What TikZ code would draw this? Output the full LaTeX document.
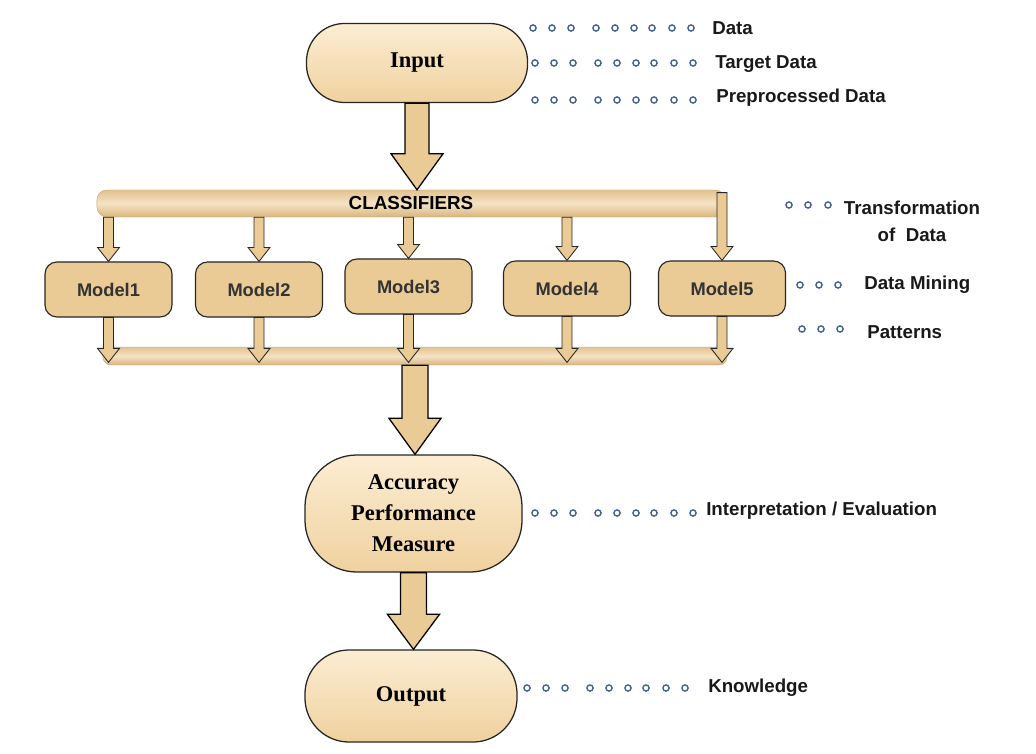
\documentclass[tikz,border=0pt]{standalone}
\usepackage{fontspec}
\setmainfont{Liberation Serif}
\setsansfont{Liberation Sans}
\usetikzlibrary{calc}

\definecolor{boxtan}{HTML}{EACA95}
\definecolor{stadtop}{HTML}{FCEDD3}
\definecolor{stadbot}{HTML}{EFD19E}
\definecolor{bartop}{HTML}{E2C290}
\definecolor{barmid}{HTML}{F5E3C4}
\definecolor{barbot}{HTML}{D9B57F}
\definecolor{dotblue}{HTML}{45659A}

\tikzset{
  stadium/.style={draw=black!85, line width=0.9pt, top color=stadtop, bottom color=stadbot,
    font=\rmfamily\bfseries\fontsize{16}{22}\selectfont, align=center},
  modelbox/.style={draw=black!85, line width=0.8pt, fill=boxtan, rounded corners=0.3cm,
    minimum width=3.175cm, minimum height=1.375cm, text=black!80,
    font=\sffamily\bfseries\fontsize{13}{15}\selectfont},
  pipebar/.style={draw=barbot!90!black, line width=0.3pt, rounded corners=0.25cm,
    top color=bartop, bottom color=barbot, middle color=barmid},
  fatarrow/.style={draw=black, line width=0.9pt, fill=boxtan},
  thinarrow/.style={draw=black!85, line width=0.6pt, fill=boxtan},
  dotmark/.style={draw=dotblue, line width=1pt, fill=white},
  steplabel/.style={anchor=west, inner sep=0pt, text=black!90,
    font=\sffamily\bfseries\fontsize{13.3}{19.2}\selectfont},
}

% block arrow: [style]{from}{to}{shaft half width}{head half width}{head length}
\newcommand{\blockarrow}[6][]{%
  \draw[#1] let \p1=#2, \p2=#3 in
    ($(\x1,\y1)+(-#4,0)$) -- ($(\x1,\y1)+(#4,0)$)
    -- ($(\x1,\y2)+(#4,-#6)$) -- ($(\x1,\y2)+(#5,-#6)$)
    -- (\x1,\y2)
    -- ($(\x1,\y2)+(-#5,-#6)$) -- ($(\x1,\y2)+(-#4,-#6)$) -- cycle;}
% row of small rings: {x start}{y}{offsets}
\newcommand{\dotrow}[3]{%
  \foreach \dx in {#3} \draw[dotmark] (#1+\dx,#2) circle[radius=2.2pt];}

\begin{document}
\begin{tikzpicture}[x=0.025cm, y=-0.025cm]
\useasboundingbox (0,0) rectangle (1036,754);

% main flow
\node[stadium, minimum width=5.525cm, minimum height=1.975cm, rounded corners=0.95cm] (inp) at (417,63) {Input};
\node[pipebar, minimum width=15.7cm, minimum height=0.675cm, font=\sffamily\bfseries\fontsize{13.4}{15}\selectfont] (clsbar) at (411,203.5) {CLASSIFIERS};
\node[pipebar, minimum width=15.6cm, minimum height=0.45cm, rounded corners=0.2cm] (combar) at (415,356) {};

% models
\node[modelbox] (m1) at (108.5,289.5) {Model1};
\node[modelbox] (m2) at (259,289.5) {Model2};
\node[modelbox] (m3) at (408.5,286.5) {Model3};
\node[modelbox] (m4) at (567,288.5) {Model4};
\node[modelbox] (m5) at (722,288.5) {Model5};

\node[stadium, minimum width=5.425cm, minimum height=2.925cm, rounded corners=1.3cm] (acc) at (413.5,513.5) {Accuracy\\Performance\\Measure};
\node[stadium, minimum width=5.3cm, minimum height=2.3cm, rounded corners=1.1cm] (outp) at (411,696) {Output};

% big arrows
\blockarrow[fatarrow]{(inp.south)}{(clsbar.north)}{12}{26}{36}
\blockarrow[fatarrow]{(combar.south)}{(acc.north)}{13}{26}{36}
\blockarrow[fatarrow]{(acc.south)}{(outp.north)}{13}{26}{35}

% bar -> models -> bar
\foreach \m in {m1,m2,m3,m4}
  \blockarrow[thinarrow]{(clsbar.south -| \m.north)}{(\m.north)}{5}{11}{14};
\blockarrow[thinarrow]{([yshift=-2pt]clsbar.north -| m5.north)}{(m5.north)}{5}{11}{14}
\foreach \m in {m1,m2,m3,m4,m5}
  \blockarrow[thinarrow]{(\m.south)}{([yshift=2pt]combar.south -| \m.south)}{5}{11}{14};

% process steps on the right
\dotrow{533}{28}{0,19,38,63,82,101,119,139,158}
\node[steplabel] (lbldata) at (712,28) {Data};
\dotrow{535}{63}{0,19,38,63,82,101,119,139,158}
\node[steplabel] (lbltarget) at (715,64) {Target Data};
\dotrow{535}{100}{0,19,38,63,82,101,119,139,158}
\node[steplabel] (lblprep) at (716,98) {Preprocessed Data};
\dotrow{789}{205}{0,19,39}
\node[steplabel, anchor=center, align=center] (lbltrans) at (912,221.5) {Transformation\\of\ \ Data};
\dotrow{800}{285}{0,19,38}
\node[steplabel] (lblmining) at (864,285) {Data Mining};
\dotrow{802}{329}{0,19,38}
\node[steplabel] (lblpattern) at (867,332) {Patterns};
\dotrow{535}{513}{0,19,38,63,82,101,119,139,158}
\node[steplabel] (lbleval) at (706,511) {Interpretation / Evaluation};
\dotrow{527}{688}{0,19,38,63,82,101,119,139,158}
\node[steplabel] (lblknow) at (708,688) {Knowledge};
\end{tikzpicture}
\end{document}
